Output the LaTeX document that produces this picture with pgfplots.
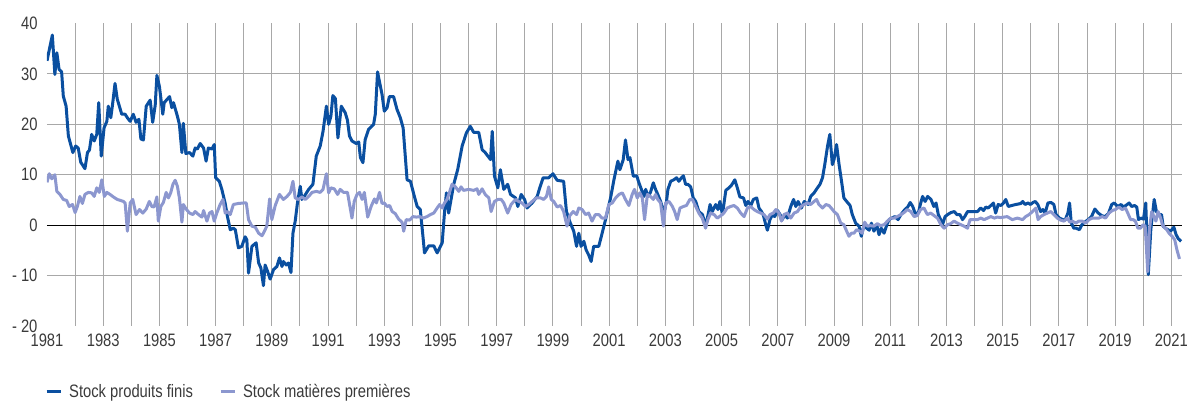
\documentclass[border=0pt]{standalone}
\usepackage{fontspec}
\setmainfont[FakeStretch=0.82]{Liberation Sans}
\usepackage{pgfplots}
\pgfplotsset{compat=1.18}

\definecolor{finis}{HTML}{0A4FA0}
\definecolor{matieres}{HTML}{8C97CF}
\definecolor{grille}{HTML}{A8A8A8}
\definecolor{texte}{HTML}{3A3A3A}

\begin{document}
\begin{tikzpicture}[font=\fontsize{18}{21}\selectfont]
\begin{axis}[
    scale only axis,
    width=1135pt,
    height=302.5pt,
    xmin=1981, xmax=2021.38,
    ymin=-20, ymax=40,
    axis line style={draw=none},
    tick style={draw=none},
    major tick length=0pt,
    minor tick length=0pt,
    xtick={1983,1985,...,2021},
    minor xtick={1982,1984,...,2020},
    extra x ticks={1981},
    extra x tick style={grid=none},
    ytick={-10,10,20,30},
    yticklabels={- 10,10,20,30},
    extra y ticks={-20,0,40},
    extra y tick labels={- 20,0,40},
    extra y tick style={grid=none},
    xmajorgrids, xminorgrids, ymajorgrids,
    major grid style={grille, line width=1pt},
    minor grid style={grille, line width=1pt},
    /pgf/number format/assume math mode=true,
    /pgf/number format/1000 sep={},
    tick label style={text=texte},
    xticklabel style={yshift=-4pt},
    yticklabel style={xshift=-6pt},
    legend style={draw=none, fill=none, at={(0,0)}, anchor=north west,
        xshift=-5pt, yshift=-54pt, legend columns=-1,
        /tikz/every odd column/.append style={column sep=5pt},
        /tikz/every even column/.append style={column sep=24pt},
        text=texte},
    legend image code/.code={\draw[#1] (0pt,0pt) -- (14pt,0pt);},
    every axis plot/.append style={line width=3pt, line join=round},
]
\coordinate (ll) at (rel axis cs:0,0);
\draw[black, line width=1.3pt] (axis cs:1981,0) -- (axis cs:2021.38,0);

% Stock produits finis
\addplot[finis] coordinates {
(1981.00,32.6) (1981.19,37.7) (1981.28,29.9) (1981.35,34.2) (1981.43,30.9) (1981.52,30.4)
(1981.58,25.6) (1981.68,23.6) (1981.76,17.7) (1981.92,14.4) (1982.02,15.7) (1982.11,15.3)
(1982.20,12.5) (1982.35,11.2) (1982.44,14.4) (1982.51,14.9) (1982.59,18.0) (1982.68,16.7)
(1982.77,18.0) (1982.84,24.3) (1982.93,13.7) (1983.03,19.3) (1983.13,20.6) (1983.18,23.6)
(1983.27,21.3) (1983.34,24.3) (1983.42,28.1) (1983.50,25.0) (1983.66,22.0) (1983.78,22.0)
(1983.86,21.3) (1983.96,20.6) (1984.07,22.0) (1984.17,20.4) (1984.27,21.0) (1984.34,17.1)
(1984.43,16.9) (1984.53,23.6) (1984.67,24.8) (1984.76,20.4) (1984.85,23.8) (1984.91,29.7)
(1985.00,27.5) (1985.12,22.0) (1985.17,24.3) (1985.36,25.5) (1985.44,23.3) (1985.50,24.3)
(1985.64,21.6) (1985.71,20.0) (1985.80,14.4) (1985.85,20.2) (1985.94,14.2) (1986.07,14.4)
(1986.19,13.7) (1986.27,15.3) (1986.35,15.1) (1986.45,16.2) (1986.57,15.3) (1986.66,12.7)
(1986.74,15.3) (1986.87,15.1) (1986.95,16.0) (1987.00,9.4) (1987.13,8.7) (1987.22,7.1)
(1987.34,4.3) (1987.42,1.7) (1987.52,-0.9) (1987.63,-0.6) (1987.70,-0.9) (1987.81,-4.5)
(1987.93,-4.2) (1988.05,-2.3) (1988.11,-2.9) (1988.17,-9.5) (1988.29,-4.2) (1988.44,-3.5)
(1988.53,-7.5) (1988.61,-8.5) (1988.70,-12.0) (1988.76,-7.9) (1988.85,-9.2) (1988.94,-10.7)
(1989.06,-8.8) (1989.18,-8.2) (1989.27,-6.5) (1989.36,-8.2) (1989.41,-7.2) (1989.51,-7.9)
(1989.59,-7.5) (1989.68,-9.4) (1989.75,-1.6) (1989.83,0.8) (1989.91,4.4) (1990.01,7.7)
(1990.07,5.1) (1990.15,5.7) (1990.31,7.1) (1990.46,8.1) (1990.58,13.7) (1990.72,15.7)
(1990.82,18.6) (1990.94,23.6) (1991.02,20.0) (1991.10,21.6) (1991.17,25.7) (1991.26,25.1)
(1991.35,17.3) (1991.47,23.6) (1991.61,22.3) (1991.69,20.8) (1991.76,17.7) (1991.85,16.7)
(1992.00,16.2) (1992.09,16.5) (1992.15,13.4) (1992.24,12.4) (1992.32,17.0) (1992.44,19.0)
(1992.62,20.0) (1992.68,22.0) (1992.76,30.4) (1992.92,25.9) (1993.00,22.6) (1993.10,23.3)
(1993.18,25.5) (1993.33,25.5) (1993.45,23.0) (1993.57,21.3) (1993.67,19.3) (1993.81,9.0)
(1993.93,8.7) (1994.07,5.7) (1994.17,3.7) (1994.28,3.1) (1994.38,-2.5) (1994.43,-5.5)
(1994.58,-4.1) (1994.76,-4.1) (1994.88,-5.5) (1995.06,-3.5) (1995.14,2.4) (1995.21,6.4)
(1995.29,2.4) (1995.47,8.1) (1995.61,11.0) (1995.77,15.7) (1995.92,18.3) (1996.06,19.6)
(1996.18,18.4) (1996.36,18.4) (1996.48,15.0) (1996.59,14.4) (1996.78,13.0) (1996.84,18.6)
(1996.92,9.7) (1997.04,7.4) (1997.13,11.0) (1997.25,7.1) (1997.39,8.1) (1997.49,6.1)
(1997.67,5.4) (1997.75,3.7) (1997.87,6.1) (1997.99,5.1) (1998.08,3.4) (1998.26,4.4)
(1998.44,5.7) (1998.53,7.4) (1998.65,9.4) (1998.85,9.4) (1999.00,10.2) (1999.15,8.9)
(1999.38,8.7) (1999.48,2.7) (1999.62,0.4) (1999.74,-1.2) (1999.84,-4.2) (1999.92,-1.6)
(2000.00,-4.2) (2000.10,-3.2) (2000.18,-4.9) (2000.27,-5.9) (2000.36,-7.2) (2000.45,-4.2)
(2000.63,-4.2) (2000.75,-1.6) (2000.87,1.1) (2001.05,5.4) (2001.17,9.0) (2001.31,12.7)
(2001.38,11.0) (2001.50,13.0) (2001.58,16.9) (2001.67,13.0) (2001.74,13.4) (2001.86,9.7)
(2001.98,9.8) (2002.06,8.4) (2002.14,7.2) (2002.24,5.7) (2002.30,7.1) (2002.38,5.7)
(2002.47,6.5) (2002.57,8.4) (2002.65,7.1) (2002.73,6.1) (2002.83,4.7) (2002.95,2.5)
(2003.04,4.7) (2003.09,7.1) (2003.19,8.7) (2003.30,9.0) (2003.40,9.4) (2003.48,8.7)
(2003.57,9.4) (2003.64,9.8) (2003.72,8.1) (2003.80,8.1) (2003.90,7.6) (2003.99,5.4)
(2004.08,4.7) (2004.19,2.7) (2004.32,2.1) (2004.43,-0.2) (2004.52,2.1) (2004.59,4.1)
(2004.67,2.7) (2004.79,4.1) (2004.87,3.1) (2004.94,4.7) (2005.03,2.1) (2005.15,6.9)
(2005.26,7.4) (2005.35,7.9) (2005.47,9.0) (2005.56,7.4) (2005.65,5.6) (2005.78,5.4)
(2005.86,3.9) (2005.94,4.7) (2006.04,3.9) (2006.13,5.1) (2006.25,5.4) (2006.33,3.4)
(2006.42,2.7) (2006.49,1.9) (2006.57,0.1) (2006.63,-1.0) (2006.72,1.1) (2006.81,2.1)
(2006.89,1.7) (2006.99,2.9) (2007.08,2.1) (2007.16,1.1) (2007.25,2.1) (2007.34,1.4)
(2007.46,3.7) (2007.56,5.1) (2007.64,3.7) (2007.72,4.7) (2007.84,3.4) (2007.94,4.7)
(2008.08,4.1) (2008.17,5.7) (2008.29,6.4) (2008.41,7.4) (2008.50,8.1) (2008.59,9.4)
(2008.67,12.0) (2008.77,15.7) (2008.85,18.0) (2008.94,12.0) (2009.00,13.0) (2009.09,16.0)
(2009.18,12.0) (2009.26,9.0) (2009.35,5.4) (2009.45,4.7) (2009.57,3.9) (2009.65,2.1)
(2009.77,0.4) (2009.89,-0.2) (2009.97,-2.2) (2010.07,0.1) (2010.16,-0.6) (2010.25,-1.0)
(2010.33,0.4) (2010.42,-1.2) (2010.52,0.1) (2010.60,-1.9) (2010.68,-0.6) (2010.78,-1.6)
(2010.88,0.1) (2010.96,1.1) (2011.05,1.4) (2011.16,1.7) (2011.28,1.1) (2011.38,2.1)
(2011.52,3.1) (2011.62,3.6) (2011.71,4.5) (2011.80,3.7) (2011.88,2.4) (2012.00,2.4)
(2012.07,4.1) (2012.15,5.7) (2012.24,4.7) (2012.33,5.7) (2012.45,5.1) (2012.55,3.7)
(2012.63,4.4) (2012.71,2.1) (2012.80,1.0) (2012.86,0.1) (2012.95,1.7) (2013.04,2.1)
(2013.16,2.5) (2013.28,2.7) (2013.37,2.1) (2013.48,2.1) (2013.57,1.1) (2013.65,1.7)
(2013.75,2.7) (2013.87,2.7) (2013.99,2.7) (2014.10,2.7) (2014.22,3.4) (2014.32,2.9)
(2014.40,3.6) (2014.48,3.4) (2014.58,3.9) (2014.67,4.4) (2014.75,2.4) (2014.84,4.1)
(2014.94,3.9) (2015.03,4.4) (2015.11,5.1) (2015.20,3.7) (2015.32,3.9) (2015.47,4.1)
(2015.65,4.3) (2015.71,4.7) (2015.80,4.1) (2015.90,4.4) (2015.99,4.1) (2016.08,4.5)
(2016.16,4.7) (2016.25,4.1) (2016.35,2.7) (2016.43,3.1) (2016.51,2.4) (2016.61,4.4)
(2016.72,4.5) (2016.82,4.1) (2016.90,2.1) (2017.02,1.4) (2017.14,1.1) (2017.22,1.0)
(2017.32,2.4) (2017.38,4.4) (2017.44,0.4) (2017.53,-0.6) (2017.61,-0.6) (2017.73,-0.9)
(2017.82,0.1) (2017.92,0.6) (2018.04,1.1) (2018.16,1.7) (2018.28,3.2) (2018.40,2.4)
(2018.52,1.9) (2018.64,1.7) (2018.76,2.3) (2018.88,4.1) (2018.97,4.4) (2019.09,3.7)
(2019.21,4.1) (2019.29,3.6) (2019.38,3.9) (2019.50,4.4) (2019.59,3.7) (2019.69,3.9)
(2019.77,3.6) (2019.83,1.1) (2019.92,1.4) (2020.01,1.2) (2020.09,4.4) (2020.18,-9.8)
(2020.27,-0.9) (2020.39,5.1) (2020.47,2.7) (2020.56,2.1) (2020.65,2.1) (2020.71,-0.2)
(2020.79,-0.6) (2020.88,-0.9) (2020.97,-1.2) (2021.09,-0.4) (2021.17,-1.9) (2021.25,-2.7)
(2021.35,-3.2)
};
\addlegendentry{Stock produits finis}

% Stock matieres premieres
\addplot[matieres] coordinates {
(1981.00,8.5) (1981.08,10.2) (1981.17,9.2) (1981.28,10.0) (1981.35,6.7) (1981.46,6.1)
(1981.58,5.1) (1981.70,4.9) (1981.79,3.7) (1981.91,4.1) (1982.00,2.5) (1982.08,3.7)
(1982.17,5.7) (1982.26,4.3) (1982.35,6.1) (1982.47,6.5) (1982.59,6.4) (1982.68,5.7)
(1982.77,7.4) (1982.86,6.5) (1982.95,9.0) (1983.04,5.7) (1983.13,6.5) (1983.24,6.1)
(1983.36,5.6) (1983.50,5.1) (1983.62,4.9) (1983.72,4.7) (1983.78,4.4) (1983.86,-1.2)
(1983.96,4.4) (1984.05,5.1) (1984.17,2.1) (1984.29,3.1) (1984.41,2.4) (1984.53,3.2)
(1984.64,4.7) (1984.73,3.7) (1984.81,3.6) (1984.91,5.6) (1984.96,0.8) (1985.05,3.7)
(1985.14,4.5) (1985.24,6.5) (1985.32,5.4) (1985.40,6.4) (1985.48,8.1) (1985.56,8.9)
(1985.64,7.7) (1985.71,5.4) (1985.80,0.6) (1985.85,4.1) (1985.95,3.2) (1986.07,2.4)
(1986.19,2.1) (1986.27,2.7) (1986.39,2.1) (1986.51,1.6) (1986.57,2.9) (1986.69,0.8)
(1986.78,2.4) (1986.87,2.7) (1986.95,0.8) (1987.04,2.4) (1987.16,4.1) (1987.26,5.1)
(1987.34,2.4) (1987.42,2.7) (1987.52,2.1) (1987.63,4.1) (1987.81,4.3) (1987.99,4.4)
(1988.09,4.4) (1988.17,1.1) (1988.29,-0.2) (1988.41,-0.4) (1988.53,-1.6) (1988.65,-2.1)
(1988.70,-1.6) (1988.82,-0.2) (1988.92,5.2) (1989.00,1.1) (1989.12,3.9) (1989.27,6.1)
(1989.41,5.1) (1989.54,5.7) (1989.66,6.5) (1989.75,8.7) (1989.83,5.4) (1989.95,5.1)
(1990.07,5.6) (1990.19,5.1) (1990.31,5.7) (1990.43,6.5) (1990.58,6.7) (1990.72,6.5)
(1990.82,7.1) (1990.94,10.2) (1991.02,6.4) (1991.10,7.4) (1991.22,7.2) (1991.34,6.1)
(1991.43,7.1) (1991.55,6.5) (1991.69,6.5) (1991.85,1.4) (1991.93,4.7) (1992.03,6.1)
(1992.12,6.5) (1992.21,5.1) (1992.29,6.5) (1992.41,1.6) (1992.53,3.7) (1992.65,5.2)
(1992.72,4.4) (1992.83,6.5) (1992.92,4.3) (1993.00,4.4) (1993.10,3.7) (1993.19,3.9)
(1993.28,2.7) (1993.39,2.3) (1993.51,1.2) (1993.63,0.6) (1993.69,-1.2) (1993.78,1.1)
(1993.90,1.0) (1994.02,1.7) (1994.14,1.6) (1994.26,1.7) (1994.38,1.4) (1994.52,1.7)
(1994.64,2.1) (1994.76,2.4) (1994.88,3.4) (1994.97,4.1) (1995.06,3.4) (1995.14,4.4)
(1995.23,5.1) (1995.33,6.7) (1995.41,8.1) (1995.53,7.6) (1995.65,6.7) (1995.73,7.6)
(1995.82,6.9) (1996.00,7.1) (1996.18,6.9) (1996.30,7.2) (1996.36,6.1) (1996.48,7.2)
(1996.59,6.1) (1996.72,5.4) (1996.80,2.7) (1996.92,4.7) (1997.04,5.1) (1997.16,5.1)
(1997.25,4.4) (1997.39,2.4) (1997.51,4.1) (1997.67,5.1) (1997.78,4.7) (1997.90,4.4)
(1998.02,3.7) (1998.14,4.1) (1998.26,4.7) (1998.41,5.4) (1998.56,5.4) (1998.67,5.1)
(1998.77,5.7) (1998.85,7.6) (1998.94,5.1) (1999.03,4.7) (1999.15,3.6) (1999.27,3.9)
(1999.38,2.7) (1999.50,-0.2) (1999.60,1.9) (1999.72,2.7) (1999.84,2.1) (1999.92,3.4)
(2000.04,3.1) (2000.16,2.1) (2000.27,2.4) (2000.39,0.8) (2000.51,2.1) (2000.63,2.1)
(2000.75,1.4) (2000.87,1.4) (2000.99,4.1) (2001.11,4.4) (2001.23,5.4) (2001.35,6.1)
(2001.47,6.4) (2001.58,5.1) (2001.70,3.9) (2001.82,6.1) (2001.90,7.1) (2002.00,5.4)
(2002.09,6.4) (2002.18,5.4) (2002.26,1.1) (2002.36,6.1) (2002.47,5.7) (2002.57,5.1)
(2002.65,6.1) (2002.73,5.1) (2002.83,4.4) (2002.93,-0.2) (2003.01,4.4) (2003.13,4.7)
(2003.25,3.7) (2003.33,2.7) (2003.42,1.1) (2003.52,3.4) (2003.64,3.7) (2003.75,3.9)
(2003.87,5.1) (2003.96,5.1) (2004.08,3.7) (2004.19,2.4) (2004.31,1.4) (2004.43,-0.6)
(2004.51,1.1) (2004.61,2.4) (2004.73,2.1) (2004.85,1.4) (2004.97,1.9) (2005.08,2.4)
(2005.20,3.4) (2005.32,3.7) (2005.44,3.9) (2005.56,3.4) (2005.68,2.4) (2005.80,1.7)
(2005.92,3.4) (2006.04,3.7) (2006.15,3.1) (2006.27,2.7) (2006.39,2.4) (2006.51,2.1)
(2006.63,1.2) (2006.72,2.1) (2006.84,2.4) (2006.93,3.1) (2007.04,2.4) (2007.13,0.8)
(2007.22,2.1) (2007.34,2.4) (2007.46,1.4) (2007.58,2.4) (2007.70,2.7) (2007.82,3.7)
(2007.94,4.1) (2008.05,4.4) (2008.17,4.1) (2008.29,4.7) (2008.38,5.1) (2008.46,4.1)
(2008.59,3.4) (2008.71,4.1) (2008.82,3.9) (2008.90,3.4) (2009.00,2.7) (2009.12,2.1)
(2009.24,0.4) (2009.35,0.1) (2009.45,-1.2) (2009.53,-2.2) (2009.62,-1.6) (2009.71,-1.6)
(2009.80,-0.9) (2009.92,-1.2) (2010.00,-1.6) (2010.09,0.6) (2010.18,-0.2) (2010.30,-0.1)
(2010.42,-0.2) (2010.54,0.3) (2010.66,-0.1) (2010.78,0.1) (2010.90,0.8) (2011.02,1.4)
(2011.13,1.4) (2011.25,1.7) (2011.38,2.1) (2011.49,2.5) (2011.61,3.1) (2011.73,2.7)
(2011.85,1.7) (2011.96,1.9) (2012.08,3.1) (2012.20,3.4) (2012.32,2.1) (2012.44,2.4)
(2012.56,1.9) (2012.68,1.4) (2012.80,0.1) (2012.92,-0.6) (2013.04,0.1) (2013.15,0.3)
(2013.27,0.8) (2013.39,0.4) (2013.51,0.1) (2013.63,-0.2) (2013.75,-0.6) (2013.84,1.1)
(2013.99,1.1) (2014.10,1.1) (2014.22,1.4) (2014.34,1.1) (2014.46,1.4) (2014.58,1.7)
(2014.70,1.4) (2014.81,1.6) (2014.93,1.5) (2015.16,1.7) (2015.34,1.1) (2015.52,1.4)
(2015.71,1.1) (2015.82,1.7) (2015.94,2.1) (2016.06,2.7) (2016.18,3.4) (2016.26,1.1)
(2016.35,1.7) (2016.47,2.1) (2016.59,2.4) (2016.71,2.7) (2016.82,2.1) (2016.94,1.4)
(2017.06,1.0) (2017.18,0.8) (2017.30,1.4) (2017.39,0.6) (2017.48,0.8) (2017.60,0.4)
(2017.71,0.8) (2017.83,0.8) (2017.95,0.4) (2018.07,1.1) (2018.19,1.4) (2018.31,1.4)
(2018.42,1.4) (2018.54,1.7) (2018.66,1.4) (2018.78,2.4) (2018.90,2.9) (2019.01,3.1)
(2019.13,3.6) (2019.25,3.1) (2019.37,3.4) (2019.45,2.4) (2019.55,1.1) (2019.64,1.1)
(2019.72,0.8) (2019.81,-0.6) (2019.90,-0.6) (2020.00,0.1) (2020.07,-0.2) (2020.16,-9.2)
(2020.22,-0.9) (2020.30,2.7) (2020.38,1.7) (2020.45,0.8) (2020.53,2.7) (2020.62,1.4)
(2020.69,-0.1) (2020.80,-0.6) (2020.92,-1.6) (2021.04,-2.3) (2021.12,-2.9) (2021.20,-4.9)
(2021.29,-6.7)
};
\addlegendentry{Stock matières premières}
\end{axis}
\pgfresetboundingbox
\path[use as bounding box] (ll) ++(-47pt,-77pt) rectangle ++(1190pt,403pt);
\end{tikzpicture}
\end{document}
